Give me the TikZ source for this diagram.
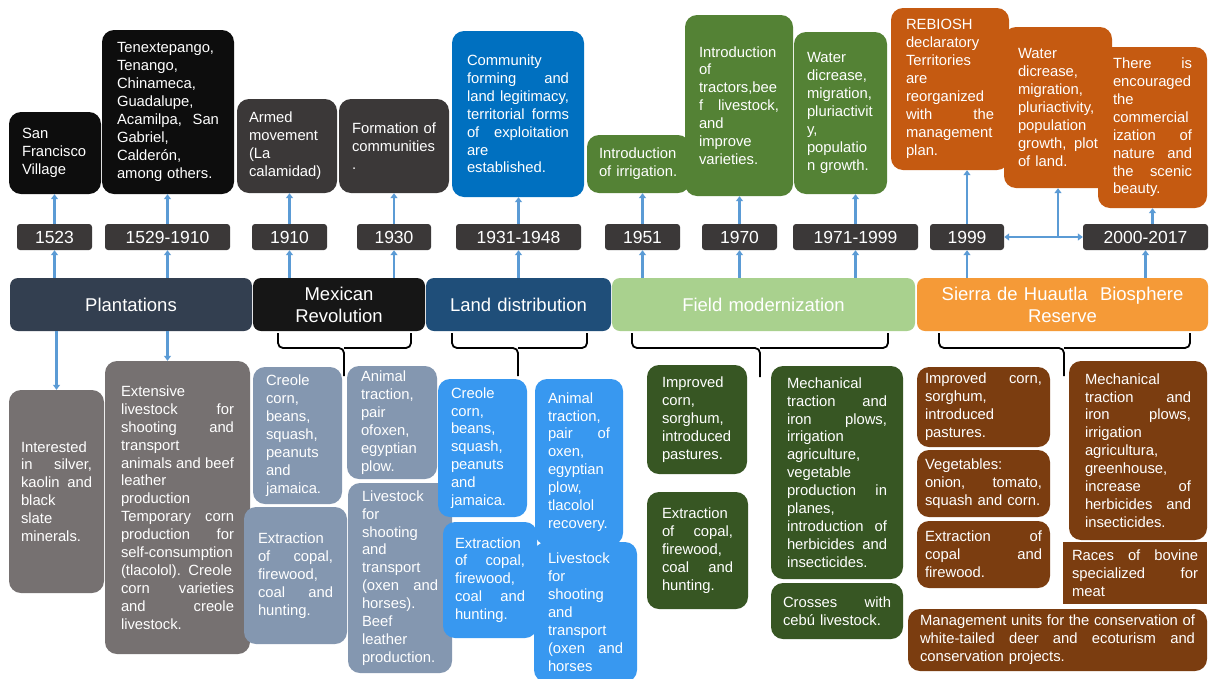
\documentclass[tikz,border=0pt]{standalone}
\usepackage{fontspec}
\setmainfont{Liberation Sans}
\usetikzlibrary{arrows.meta}
\definecolor{cblack}{HTML}{0D0D0D}
\definecolor{cdgray}{HTML}{3B3838}
\definecolor{cplant}{HTML}{333F50}
\definecolor{cmex}{HTML}{161616}
\definecolor{cblue}{HTML}{0070C0}
\definecolor{cland}{HTML}{1F4E79}
\definecolor{cgreen}{HTML}{548235}
\definecolor{cfield}{HTML}{A9D18E}
\definecolor{corange}{HTML}{C55A11}
\definecolor{cres}{HTML}{F59A37}
\definecolor{cgray}{HTML}{767171}
\definecolor{cgb}{HTML}{8497B0}
\definecolor{cbb}{HTML}{3898F0}
\definecolor{cdg}{HTML}{375623}
\definecolor{cbr}{HTML}{7B3D10}
\definecolor{carrow}{HTML}{5B9BD5}
\setlength\parindent{0pt}
\newcommand\JL[1]{\leavevmode\hbox to\hsize{\spaceskip=0.28em plus 1fil\relax #1}}
\newcommand\btxt{\fontsize{14.8pt}{17.9pt}\selectfont}
\newcommand\Bx[8]{%
  \pgfmathsetmacro\Bw{#5-#3}%
  \pgfmathsetmacro\Bh{#6-#4}%
  \pgfmathsetmacro\Tw{#5-#3-2*#7}%
  \pgfmathsetmacro\Cx{(#3+#5)/2}%
  \pgfmathsetmacro\Cy{(#4+#6)/2}%
  \node[#2,minimum width=\Bw pt,minimum height=\Bh pt,text width=\Tw pt] (#1) at (\Cx,\Cy) {#8};%
}
\begin{document}
\begin{tikzpicture}[x=1pt,y=-1pt,
  bx/.style={rounded corners=12pt,text=white,font=\btxt,align=left,inner sep=0pt},
  yr/.style={rounded corners=3pt,fill=cdgray,text=white,font=\fontsize{17.5pt}{20pt}\selectfont,align=center,inner sep=0pt},
  ph/.style={rounded corners=8pt,text=white,font=\fontsize{18.5pt}{22pt}\selectfont,align=center,inner sep=0pt},
  arr/.style={draw=carrow,line width=2.2pt,-{Triangle[width=7pt,length=5pt]}},
  brace/.style={draw=black,line width=1.8pt,rounded corners=5pt}]
\fill[white] (0,0) rectangle (1210,678);
\useasboundingbox (0,0) rectangle (1210,678);
% top boxes
\Bx{sfv}{bx,fill=cblack}{9}{112}{101}{194}{13}{San\\Francisco\\Village}
\Bx{ten}{bx,fill=cblack}{102}{30}{234}{194}{15}{Tenextepango,\\Tenango,\\Chinameca,\\Guadalupe,\\\JL{Acamilpa, San}\\Gabriel,\\Calderón,\\among others.}
\Bx{arm}{bx,fill=cdgray}{237}{99}{337}{193}{12}{Armed\\movement\\(La\\calamidad)}
\Bx{form}{bx,fill=cdgray}{339}{99}{449}{193}{13}{Formation of\\communities\\.}
\Bx{comm}{bx,fill=cblue}{452}{31}{584}{197}{15}{Community\\\JL{forming and}\\\JL{land legitimacy,}\\\JL{territorial forms}\\\JL{of exploitation}\\are\\established.}
\Bx{irr}{bx,fill=cgreen}{587}{135}{690}{193}{12}{Introduction\\of irrigation.}
\Bx{trac}{bx,fill=cgreen}{685}{15}{793}{196}{14}{Introduction\\of\\tractors,bee\\\JL{f livestock,}\\and\\improve\\varieties.}
\Bx{wat1}{bx,fill=cgreen}{794}{32}{887}{194}{13}{Water\\dicrease,\\migration,\\pluriactivit\\y,\\populatio\\n growth.}
\Bx{reb}{bx,fill=corange}{891}{8}{1009}{170}{15}{REBIOSH\\declaratory\\Territories\\are\\reorganized\\\JL{with the}\\management\\plan.}
\Bx{wat2}{bx,fill=corange}{1004}{27}{1112}{188}{14}{Water\\dicrease,\\migration,\\pluriactivity,\\population\\\JL{growth, plot}\\of land.}
\Bx{there}{bx,fill=corange}{1098}{47}{1207}{208}{15}{\JL{There is}\\encouraged\\the\\commercial\\\JL{ization of}\\\JL{nature and}\\\JL{the scenic}\\beauty.}
% years
\Bx{y1523}{yr}{17}{224}{92}{250}{2}{1523}
\Bx{y1529}{yr}{105}{224}{230}{250}{2}{1529-1910}
\Bx{y1910}{yr}{252}{224}{327}{250}{2}{1910}
\Bx{y1930}{yr}{357}{224}{431}{250}{2}{1930}
\Bx{y1931}{yr}{456}{224}{581}{250}{2}{1931-1948}
\Bx{y1951}{yr}{605}{224}{680}{250}{2}{1951}
\Bx{y1970}{yr}{702}{224}{777}{250}{2}{1970}
\Bx{y1971}{yr}{793}{224}{918}{250}{2}{1971-1999}
\Bx{y1999}{yr}{930}{224}{1004}{250}{2}{1999}
\Bx{y2000}{yr}{1083}{224}{1208}{250}{2}{2000-2017}
% phases
\Bx{plant}{ph,fill=cplant}{10}{278}{252}{331}{5}{Plantations}
\Bx{mexrev}{ph,fill=cmex}{253}{278}{425}{331}{5}{Mexican\\Revolution}
\Bx{land}{ph,fill=cland}{426}{278}{611}{331}{5}{Land distribution}
\Bx{field}{ph,fill=cfield}{612}{278}{915}{331}{5}{Field modernization}
\Bx{res}{ph,fill=cres}{917}{278}{1208}{331}{5}{Sierra de Huautla\ \ Biosphere\\Reserve}
% bottom boxes
\Bx{int}{bx,fill=cgray}{9}{390}{104}{593}{12}{Interested\\\JL{in silver,}\\\JL{kaolin and}\\black\\slate\\minerals.}
\Bx{ext}{bx,fill=cgray}{105}{361}{250}{654}{16}{Extensive\\\JL{livestock for}\\\JL{shooting and}\\transport\\\JL{animals and beef}\\leather\\production\\\JL{Temporary corn}\\\JL{production for}\\self-consumption\\\JL{(tlacolol). Creole}\\\JL{corn varieties}\\\JL{and creole}\\livestock.}
\Bx{gb1}{bx,fill=cgb}{253}{367}{342}{504}{13}{Creole\\corn,\\beans,\\squash,\\peanuts\\and\\jamaica.}
\Bx{gb2}{bx,fill=cgb}{244}{507}{347}{644}{14}{Extraction\\\JL{of copal,}\\firewood,\\\JL{coal and}\\hunting.}
\Bx{gb3}{bx,fill=cgb}{347}{366}{437}{479}{14}{Animal\\traction,\\pair\\ofoxen,\\egyptian\\plow.}
\Bx{gb4}{bx,fill=cgb}{348}{483}{452}{673}{14}{Livestock\\for\\shooting\\and\\transport\\\JL{(oxen and}\\horses).\\Beef\\leather\\production.}
\Bx{b1}{bx,fill=cbb}{438}{379}{527}{517}{13}{Creole\\corn,\\beans,\\squash,\\peanuts\\and\\jamaica.}
\Bx{b2}{bx,fill=cbb}{535}{379}{623}{545}{13}{Animal\\traction,\\\JL{pair of}\\oxen,\\egyptian\\plow,\\tlacolol\\recovery.}
\Bx{b3}{bx,fill=cbb}{443}{522}{537}{638}{12}{Extraction\\\JL{of copal,}\\firewood,\\\JL{coal and}\\hunting.}
\Bx{b4}{bx,fill=cbb}{534}{542}{637}{682}{14}{Livestock\\for\\shooting\\and\\transport\\\JL{(oxen and}\\horses}
\Bx{g1}{bx,fill=cdg}{647}{365}{747}{474}{15}{Improved\\corn,\\sorghum,\\introduced\\pastures.}
\Bx{g2}{bx,fill=cdg}{647}{492}{748}{609}{15}{Extraction\\\JL{of copal,}\\firewood,\\\JL{coal and}\\hunting.}
\Bx{g3}{bx,fill=cdg}{771}{366}{903}{579}{16}{Mechanical\\\JL{traction and}\\\JL{iron plows,}\\irrigation\\agriculture,\\vegetable\\\JL{production in}\\planes,\\\JL{introduction of}\\\JL{herbicides and}\\insecticides.}
\Bx{g4}{bx,fill=cdg}{771}{583}{903}{639}{12}{\JL{Crosses with}\\cebú livestock.}
\Bx{br1}{bx,fill=cbr}{917}{367}{1050}{447}{8}{\JL{Improved corn,}\\sorghum,\\introduced\\pastures.}
\Bx{br2}{bx,fill=cbr}{917}{450}{1050}{517}{8}{Vegetables:\\\JL{onion, tomato,}\\squash and corn.}
\Bx{br3}{bx,fill=cbr}{917}{521}{1050}{588}{8}{\JL{Extraction of}\\\JL{copal and}\\firewood.}
\Bx{br4}{bx,fill=cbr}{1069}{361}{1207}{540}{16}{Mechanical\\\JL{traction and}\\\JL{iron plows,}\\irrigation\\agricultura,\\greenhouse,\\\JL{increase of}\\\JL{herbicides and}\\insecticides.}
\Bx{br5}{bx,fill=cbr,sharp corners}{1063}{542}{1207}{604}{9}{\JL{Races of bovine}\\\JL{specialized for}\\meat}
\Bx{br6}{bx,fill=cbr}{908}{609}{1207}{671}{12}{\JL{Management units for the conservation of}\\\JL{white-tailed deer and ecoturism and}\\conservation projects.}
% arrows phase -> year
\foreach \yy/\pp in {y1523/plant,y1529/plant,y1910/mexrev,y1930/mexrev,y1931/land,y1951/field,y1970/field,y1971/field,y1999/res,y2000/res}
  \draw[arr] (\yy.south |- \pp.north) -- (\yy.south);
% arrows year -> event
\foreach \yy/\ee in {y1523/sfv,y1529/ten,y1910/arm,y1930/form,y1931/comm,y1951/irr,y1970/trac,y1971/wat1,y1999/reb}
  \draw[arr] (\yy.north) -- (\yy.north |- \ee.south);
\draw[arr] ([xshift=7pt]y2000.north) -- ([xshift=7pt]y2000.north |- there.south);
\draw[arr,{Triangle[width=7pt,length=5pt]}-{Triangle[width=7pt,length=5pt]}] (y1999.east) -- (y2000.west);
\draw[arr] (wat2.south |- y1999.east) -- (wat2.south);
% plantations down
\draw[arr] (int.north |- plant.south) -- (int.north);
\draw[arr] (y1529.south |- plant.south) -- (y1529.south |- ext.north);
% braces
\draw[brace] (278,333) |- (344,348) -- (344,376);
\draw[brace] (344,348) -| (411,333);
\draw[brace] (452,333) |- (518,348) -- (518,376);
\draw[brace] (518,348) -| (587,333);
\draw[brace] (632,333) |- (760,348) -- (760,377);
\draw[brace] (760,348) -| (888,333);
\draw[brace] (939,333) |- (1064,348) -- (1064,376);
\draw[brace] (1064,348) -| (1190,333);
\end{tikzpicture}
\end{document}
